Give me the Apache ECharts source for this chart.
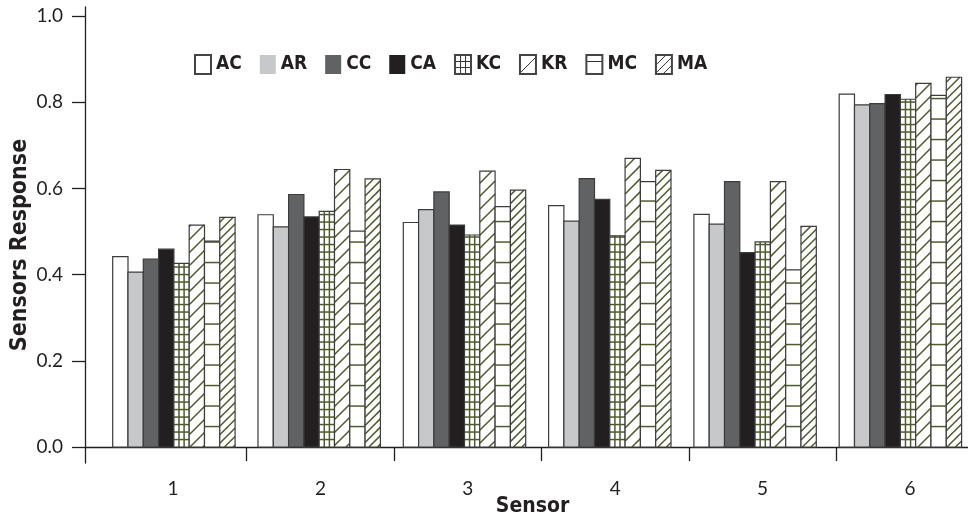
<!DOCTYPE html>
<html>
<head>
<meta charset="utf-8">
<script src="https://cdn.jsdelivr.net/npm/echarts@6/dist/echarts.min.js"></script>
<style>
html,body{margin:0;padding:0;background:#fff;}
#chart{width:968px;height:520px;}
</style>
</head>
<body>
<div id="chart"></div>
<script>
// ---- data ----
const categories = ['1', '2', '3', '4', '5', '6'];
const seriesNames = ['AC', 'AR', 'CC', 'CA', 'KC', 'KR', 'MC', 'MA'];
const AC = [0.442, 0.539, 0.521, 0.560, 0.540, 0.819];
const AR = [0.406, 0.511, 0.551, 0.524, 0.517, 0.794];
const CC = [0.436, 0.586, 0.592, 0.623, 0.616, 0.797];
const CA = [0.459, 0.534, 0.515, 0.575, 0.451, 0.818];
const KC = [0.426, 0.547, 0.492, 0.490, 0.476, 0.807];
const KR = [0.515, 0.644, 0.640, 0.670, 0.616, 0.844];
const MC = [0.478, 0.501, 0.558, 0.616, 0.411, 0.816];
const MA = [0.533, 0.622, 0.596, 0.642, 0.512, 0.858];
const yTicks = [0, 0.2, 0.4, 0.6, 0.8, 1.0];
const xLabelValues = [1, 2, 3, 4, 5, 6];
const xTickValues = [1.5, 2.5, 3.5, 4.5, 5.5];

// ---- styles ----
const INK = '#231f20';
const OLIVE = '#4e5b2c';
const BORDER = '#3c3c3c';
const tickFont = "Lato, 'Open Sans', sans-serif";
const boldFont = "'DejaVu Sans Condensed', 'Liberation Sans', sans-serif";

function iconPattern(draw) {
  const cv = document.createElement('canvas');
  cv.width = 16; cv.height = 19;
  const ctx = cv.getContext('2d');
  ctx.fillStyle = '#fff';
  ctx.fillRect(0, 0, 16, 19);
  ctx.strokeStyle = '#333';
  ctx.lineWidth = 1;
  draw(ctx);
  return { image: cv, repeat: 'repeat' };
}
const kcIcon = iconPattern(ctx => {
  ctx.beginPath();
  ctx.moveTo(5.5, 0); ctx.lineTo(5.5, 19);
  ctx.moveTo(10.5, 0); ctx.lineTo(10.5, 19);
  ctx.moveTo(0, 6.5); ctx.lineTo(16, 6.5);
  ctx.moveTo(0, 12.5); ctx.lineTo(16, 12.5);
  ctx.stroke();
});
const krIcon = iconPattern(ctx => {
  ctx.beginPath();
  ctx.moveTo(0, 18); ctx.lineTo(16, 2);
  ctx.stroke();
});
const mcIcon = iconPattern(ctx => {
  ctx.beginPath();
  ctx.moveTo(0, 6.5); ctx.lineTo(16, 6.5);
  ctx.stroke();
});
const maIcon = iconPattern(ctx => {
  ctx.beginPath();
  ctx.moveTo(0, 10); ctx.lineTo(10, 0);
  ctx.moveTo(0, 18); ctx.lineTo(16, 2);
  ctx.moveTo(7, 19); ctx.lineTo(16, 10);
  ctx.stroke();
});

const seriesDefs = [
  { name: 'AC', values: AC, fill: '#ffffff', kind: 'solid', legend: '#ffffff', lb: 1 },
  { name: 'AR', values: AR, fill: '#c7c8ca', kind: 'solid', legend: '#c7c8ca', lb: 0 },
  { name: 'CC', values: CC, fill: '#616264', kind: 'solid', legend: '#616264', lb: 0 },
  { name: 'CA', values: CA, fill: '#231f20', kind: 'solid', legend: '#231f20', lb: 0 },
  { name: 'KC', values: KC, fill: '#ffffff', kind: 'grid', legend: kcIcon, lb: 1 },
  { name: 'KR', values: KR, fill: '#ffffff', kind: 'diag', step: 13, legend: krIcon, lb: 1 },
  { name: 'MC', values: MC, fill: '#ffffff', kind: 'hlines', legend: mcIcon, lb: 1 },
  { name: 'MA', values: MA, fill: '#ffffff', kind: 'diag', step: 8.5, legend: maIcon, lb: 1 }
];

const BAR_FRAC = 0.1053;

function makeRender(k, def) {
  return function (params, api) {
    const i = api.value(0);
    const v = api.value(1);
    const top = api.coord([i, v]);
    const base = api.coord([i, 0]);
    const band = api.size([1, 0])[0];
    const bw = band * BAR_FRAC;
    const x0 = top[0] - 4 * bw + k * bw;
    const x1 = x0 + bw;
    const y0 = top[1];
    const y1 = base[1];
    const children = [{
      type: 'rect',
      shape: { x: x0, y: y0, width: bw, height: y1 - y0 },
      style: { fill: def.fill, stroke: null }
    }];
    const ls = { stroke: OLIVE, lineWidth: 1.5 };
    if (def.kind === 'grid') {
      for (let y = y1 - 7.5; y > y0 + 1; y -= 7.5) {
        children.push({ type: 'line', shape: { x1: x0, y1: y, x2: x1, y2: y }, style: ls });
      }
      [1 / 3, 2 / 3].forEach(f => {
        children.push({ type: 'line', shape: { x1: x0 + bw * f, y1: y0, x2: x0 + bw * f, y2: y1 }, style: ls });
      });
    } else if (def.kind === 'hlines') {
      for (let y = y1 - 20.5; y > y0 + 1; y -= 20.5) {
        children.push({ type: 'line', shape: { x1: x0, y1: y, x2: x1, y2: y }, style: ls });
      }
    } else if (def.kind === 'diag') {
      const s = def.step;
      for (let c = Math.ceil((x0 + y0) / s) * s; c < x1 + y1; c += s) {
        const xa = Math.max(x0, c - y1);
        const xb = Math.min(x1, c - y0);
        if (xb > xa) {
          children.push({ type: 'line', shape: { x1: xa, y1: c - xa, x2: xb, y2: c - xb }, style: ls });
        }
      }
    }
    children.push({
      type: 'rect',
      shape: { x: x0, y: y0, width: bw, height: y1 - y0 },
      style: { fill: null, stroke: BORDER, lineWidth: 1.2 }
    });
    return { type: 'group', children: children };
  };
}

const chart = echarts.init(document.getElementById('chart'), null, { renderer: 'canvas' });
const axisLineStyle = { color: INK, width: 1.3 };

const option = {
  animation: false,
  backgroundColor: '#ffffff',
  grid: { left: 85, right: 0, top: 7, bottom: 57, containLabel: false, outerBoundsMode: 'none' },
  legend: {
    data: seriesNames,
    left: 189,
    top: 49,
    icon: 'rect',
    itemWidth: 16,
    itemHeight: 19,
    itemGap: 18,
    textStyle: { fontFamily: boldFont, fontWeight: 'bold', fontSize: 19, color: INK }
  },
  xAxis: [
    {
      type: 'value',
      min: 0.403,
      max: 6.3935,
      axisLine: { show: true, onZero: true, lineStyle: axisLineStyle },
      axisTick: { show: true, customValues: xTickValues, length: 14, lineStyle: axisLineStyle },
      axisLabel: {
        customValues: xLabelValues,
        formatter: v => categories[Math.round(v) - 1],
        margin: 16,
        fontFamily: tickFont,
        fontSize: 19,
        color: INK
      },
      splitLine: { show: false },
      name: 'Sensor',
      nameLocation: 'middle',
      nameGap: 33,
      nameMoveOverlap: false,
      nameTextStyle: { fontFamily: boldFont, fontWeight: 'bold', fontSize: 21, color: INK, padding: [0, 0, 0, 12] }
    },
    {
      type: 'value',
      min: -0.6118,
      max: 5.4653,
      show: false
    }
  ],
  yAxis: {
    type: 'value',
    min: -0.037,
    max: 1.021,
    axisLine: { show: true, onZero: false, lineStyle: axisLineStyle },
    axisTick: { show: true, customValues: yTicks, length: 13, lineStyle: axisLineStyle },
    axisLabel: {
      customValues: yTicks,
      formatter: v => v.toFixed(1),
      margin: 22,
      fontFamily: tickFont,
      fontSize: 19,
      color: INK
    },
    splitLine: { show: false },
    name: 'Sensors Response',
    nameLocation: 'middle',
    nameGap: 53,
    nameRotate: 90,
    nameMoveOverlap: false,
    nameTextStyle: { fontFamily: boldFont, fontWeight: 'bold', fontSize: 23, color: INK, padding: [0, 20, 0, 0] }
  },
  series: seriesDefs.map((def, k) => ({
    type: 'custom',
    name: def.name,
    xAxisIndex: 1,
    yAxisIndex: 0,
    encode: { x: 0, y: 1 },
    itemStyle: { color: def.legend, borderColor: '#444', borderWidth: def.lb },
    renderItem: makeRender(k, def),
    data: def.values.map((v, i) => [i, v])
  }))
};
chart.setOption(option);
</script>
</body>
</html>
